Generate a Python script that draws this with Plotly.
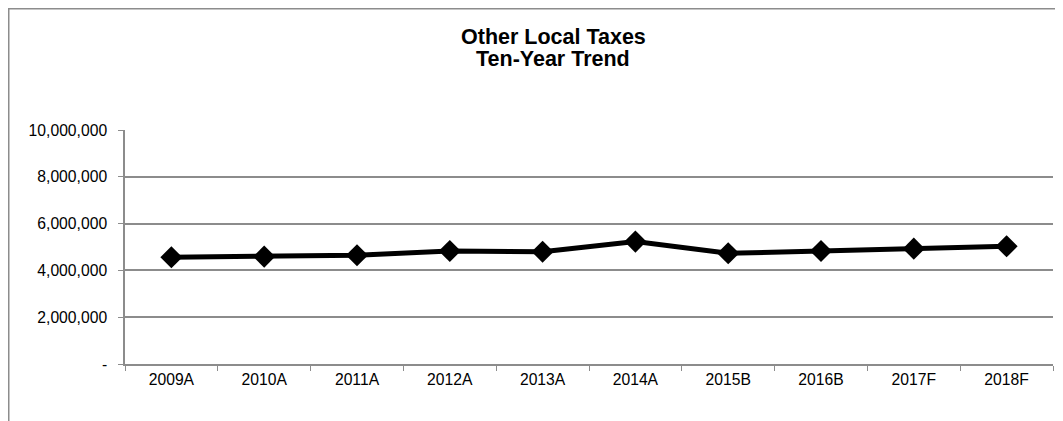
import plotly.graph_objects as go

# data
years = ["2009A", "2010A", "2011A", "2012A", "2013A",
         "2014A", "2015B", "2016B", "2017F", "2018F"]
taxes = [4560000, 4590000, 4650000, 4830000, 4800000,
         5230000, 4730000, 4830000, 4930000, 5030000]
y_ticks = [0, 2000000, 4000000, 6000000, 8000000, 10000000]
y_tick_labels = ["-", "2,000,000", "4,000,000", "6,000,000", "8,000,000", "10,000,000"]

W, H = 1063, 421
L, R, T, B = 117, 18, 122, 65
pw, ph = W - L - R, H - T - B


def px_x(x):
    return (x - L) / pw


def px_y(y):
    return (H - B - y) / ph


fig = go.Figure()
fig.add_trace(go.Scatter(
    x=years, y=taxes, mode="lines+markers",
    line=dict(color="black", width=5),
    marker=dict(symbol="diamond", size=17, color="black"),
    showlegend=False,
))

axis_col = "#8c8c8c"
fig.update_layout(
    width=W, height=H,
    margin=dict(l=L, r=R, t=T, b=B),
    paper_bgcolor="white", plot_bgcolor="white",
    font=dict(family="Liberation Sans, Arial, sans-serif", size=15.7, color="black"),
    xaxis=dict(
        type="category", range=[-0.5, 9.5],
        showline=True, linecolor=axis_col, linewidth=1.5,
        ticks="outside", tickson="boundaries", ticklen=5, tickcolor=axis_col,
        showgrid=False,
    ),
    yaxis=dict(
        range=[0, 10000000], tickvals=y_ticks, ticktext=y_tick_labels,
        showline=True, linecolor=axis_col, linewidth=1.5,
        ticks="outside", ticklen=5, tickcolor=axis_col,
        showgrid=True, gridcolor=axis_col, gridwidth=1.5,
        zeroline=False, ticklabelstandoff=8,
    ),
)

# chart title, two lines
for txt, ypix in [("Other Local Taxes", 29), ("Ten-Year Trend", 51)]:
    fig.add_annotation(
        text="<b>" + txt + "</b>", xref="paper", yref="paper",
        x=px_x(545), y=px_y(ypix), showarrow=False,
        xanchor="center", yanchor="middle",
        font=dict(size=21.5, color="black"),
    )

# chart frame along the figure edge
fig.add_shape(
    type="rect", xref="paper", yref="paper",
    x0=px_x(0.75), y0=px_y(H - 0.75), x1=px_x(W - 0.75), y1=px_y(0.75),
    line=dict(color=axis_col, width=1.5), layer="below",
)

fig.write_html("out.html")
